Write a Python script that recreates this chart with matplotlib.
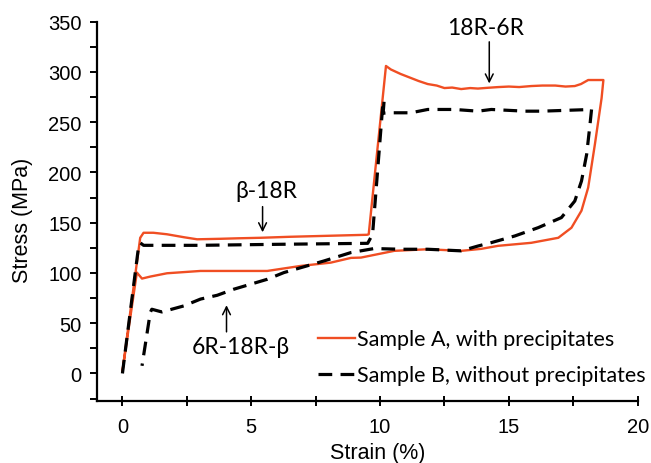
import matplotlib
matplotlib.use("Agg")
import matplotlib.pyplot as plt
from matplotlib.ticker import MultipleLocator, FixedLocator

# Sample A (with precipitates): loading, then unloading back to zero
strain_a = [0.0, 0.35, 0.69, 0.82, 1.2, 1.73, 2.4, 2.9, 3.8, 4.5, 5.36, 6.5, 8.0, 9.5, 9.56,
            10.23, 10.42, 10.8, 11.2, 11.5, 11.85, 12.2, 12.5, 12.8, 13.15, 13.5, 13.8, 14.2, 14.6,
            15.0, 15.4, 15.87, 16.3, 16.8, 17.2, 17.56, 17.8, 18.08, 18.67,
            18.6, 18.34, 18.08, 17.82, 17.43, 16.92, 15.87, 14.58, 13.93, 13.15, 11.85, 10.55,
            9.26, 8.87, 8.09, 6.92, 5.62, 4.0, 3.03, 1.73, 1.08, 0.76, 0.56, 0.3, 0.0]
stress_a = [2, 70, 135, 140, 140, 138.5, 135.5, 133.5, 134, 134.5, 135, 136, 137, 138, 138.5,
            306, 302.5, 298, 294, 291, 288, 286.5, 284, 284.5, 283, 284, 283.5, 284.3, 285,
            285.5, 285, 286, 286.5, 286.5, 285.5, 286, 288, 292, 292,
            274, 228, 185, 162, 145, 135, 130, 127, 124, 122, 123.6, 122,
            115.3, 115, 110.3, 107, 102, 102, 102, 99.7, 96.4, 94.4, 100.4, 55, 2]

# Sample B (without precipitates)
strain_b = [0.0, 0.62, 0.69, 0.82, 3.0, 6.0, 9.52, 9.71, 10.1, 10.16, 10.12, 10.42, 11.2, 11.85,
            12.89, 13.8, 14.32, 15.62, 16.27, 18.21,
            18.15, 18.02, 17.82, 17.56, 17.04, 16.14, 15.23, 14.32, 13.8, 13.15, 11.85, 10.8,
            9.77, 8.87, 7.83, 6.27, 5.62, 4.32, 3.68, 3.03, 2.38, 1.53, 1.14, 1.08, 0.76]
stress_b = [0, 125, 130, 127.5, 127.5, 128.5, 129.5, 138.5, 265, 272, 259, 259.4, 259.4, 262.7,
            262.7, 261, 262.7, 261, 261, 262.7,
            247.8, 218, 191.5, 171.6, 155.1, 145.1, 136.8, 130.2, 126.8, 122, 123.6, 123.6,
            124.3, 120.3, 112, 100.4, 93.7, 83.8, 77.8, 74, 67.2, 61.2, 63.9, 60.6, 7.6]

labels = ["Sample A, with precipitates", "Sample B, without precipitates"]

# annotations: text, text position, arrow tail, arrow tip
notes = [
    ("β-18R", (5.6, 182), (5.44, 166), (5.44, 140.5)),
    ("18R-6R", (14.08, 344), (14.24, 330), (14.24, 288.6)),
    ("6R-18R-β", (4.59, 27), (4.04, 41.4), (4.04, 67.9)),
]

ORANGE = "#F04E23"
txt_font = ["Lato", "DejaVu Sans"]

fig = plt.figure(figsize=(6.51, 4.64), dpi=100)
ax = fig.add_axes([0.1485, 0.133, 0.831, 0.818])

ax.plot(strain_a, stress_a, color=ORANGE, lw=1.7, label=labels[0])
ax.plot(strain_b, stress_b, color="black", lw=2.3, dashes=(4.3, 2.6), label=labels[1])

for text, tpos, tail, tip in notes:
    ax.text(tpos[0], tpos[1], text, ha="center", va="center", fontsize=16.5, family=txt_font)
    ax.annotate("", xy=tip, xytext=tail,
                arrowprops=dict(arrowstyle="->", color="black", lw=1.1,
                                shrinkA=0, shrinkB=0, mutation_scale=14))

ax.set_xlim(-1, 20)
ax.set_ylim(-27.7, 350)
ax.xaxis.set_major_locator(MultipleLocator(5))
ax.xaxis.set_minor_locator(MultipleLocator(2.5))
ax.yaxis.set_major_locator(MultipleLocator(50))
ax.yaxis.set_minor_locator(FixedLocator([-25, 25, 75, 125, 175, 225, 275, 325]))

for s in ["top", "right"]:
    ax.spines[s].set_visible(False)
for s in ["left", "bottom"]:
    ax.spines[s].set_linewidth(1.6)

ax.tick_params(axis="y", which="both", direction="out", length=5, width=1.4,
               labelsize=14.5, pad=6)
ax.tick_params(axis="x", which="both", direction="inout", length=7, width=1.4,
               labelsize=14.5, pad=8)
for lab in ax.get_xticklabels() + ax.get_yticklabels():
    lab.set_family("Liberation Sans")

ax.set_xlabel("Strain (%)", fontsize=15.5, family="Liberation Sans")
ax.set_ylabel("Stress (MPa)", fontsize=15.5, family="Liberation Sans")
ax.xaxis.set_label_coords(0.52, -0.108)
ax.yaxis.set_label_coords(-0.118, 0.48)

ax.legend(loc="upper left", bbox_to_anchor=(0.409, 0.19), frameon=False,
          borderaxespad=0, borderpad=0, handlelength=1.72, handletextpad=0.1,
          labelspacing=0.75, prop={"family": txt_font, "size": 15.5})

fig.savefig("out.png", dpi=100)
